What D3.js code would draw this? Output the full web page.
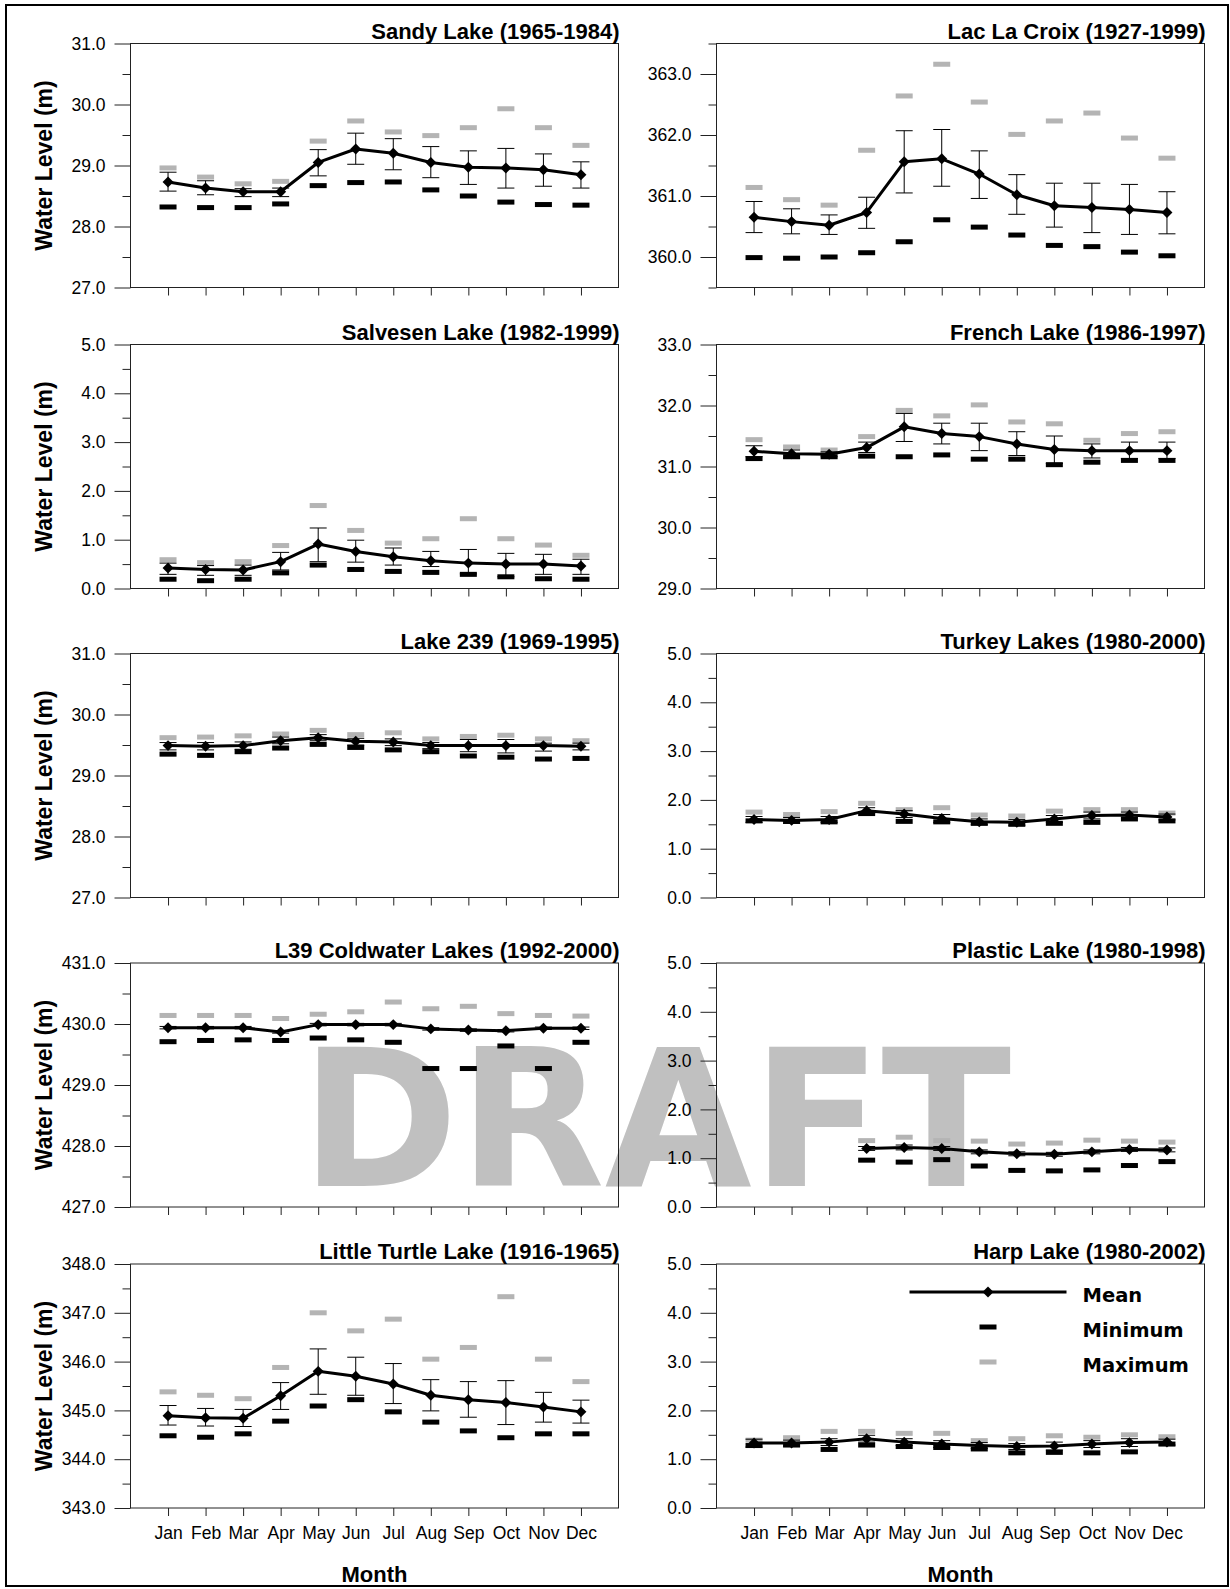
<!DOCTYPE html>
<html>
<head>
<meta charset="utf-8">
<script src="https://cdn.jsdelivr.net/npm/d3@7"></script>
<style>
  body { margin: 0; background: #fff; }
  svg text { font-family: 'Liberation Sans', Arial, sans-serif; }
</style>
</head>
<body>
<div id="chart"></div>
<script>
const months = ['Jan', 'Feb', 'Mar', 'Apr', 'May', 'Jun', 'Jul', 'Aug', 'Sep', 'Oct', 'Nov', 'Dec'];

// Sandy Lake (1965-1984)
const sandyMean = [28.73, 28.63, 28.57, 28.57, 29.05, 29.27, 29.20, 29.05, 28.97, 28.96, 28.93, 28.85];
const sandyUpper = [28.89, 28.75, 28.62, 28.63, 29.26, 29.53, 29.44, 29.31, 29.24, 29.28, 29.19, 29.06];
const sandyLower = [28.58, 28.52, 28.49, 28.49, 28.83, 29.02, 28.93, 28.80, 28.69, 28.63, 28.66, 28.63];
const sandyMax = [28.96, 28.81, 28.70, 28.74, 29.40, 29.73, 29.55, 29.49, 29.62, 29.93, 29.62, 29.33];
const sandyMin = [28.32, 28.31, 28.31, 28.37, 28.67, 28.72, 28.73, 28.60, 28.50, 28.40, 28.36, 28.35];

// Lac La Croix (1927-1999)
const croixMean = [360.65, 360.58, 360.52, 360.73, 361.56, 361.61, 361.36, 361.02, 360.84, 360.81, 360.78, 360.73];
const croixUpper = [360.91, 360.79, 360.69, 360.98, 362.07, 362.09, 361.74, 361.35, 361.21, 361.21, 361.19, 361.07];
const croixLower = [360.40, 360.38, 360.37, 360.47, 361.05, 361.16, 360.96, 360.70, 360.49, 360.40, 360.37, 360.38];
const croixMax = [361.14, 360.94, 360.85, 361.75, 362.64, 363.16, 362.54, 362.01, 362.23, 362.36, 361.95, 361.62];
const croixMin = [359.99, 359.98, 360.00, 360.07, 360.25, 360.61, 360.49, 360.36, 360.19, 360.17, 360.08, 360.02];

// Salvesen Lake (1982-1999)
const salvesenMean = [0.42, 0.39, 0.38, 0.55, 0.91, 0.76, 0.65, 0.57, 0.52, 0.50, 0.50, 0.46];
const salvesenUpper = [0.52, 0.47, 0.48, 0.74, 1.24, 0.99, 0.83, 0.76, 0.80, 0.72, 0.70, 0.60];
const salvesenLower = [0.29, 0.27, 0.27, 0.38, 0.55, 0.54, 0.48, 0.45, 0.30, 0.24, 0.29, 0.29];
const salvesenMax = [0.59, 0.53, 0.55, 0.88, 1.70, 1.19, 0.93, 1.02, 1.43, 1.02, 0.89, 0.68];
const salvesenMin = [0.19, 0.16, 0.19, 0.32, 0.48, 0.39, 0.35, 0.33, 0.29, 0.24, 0.20, 0.19];

// French Lake (1986-1997)
const frenchMean = [31.25, 31.21, 31.20, 31.31, 31.65, 31.54, 31.49, 31.37, 31.28, 31.26, 31.26, 31.26];
const frenchUpper = [31.34, 31.27, 31.24, 31.40, 31.87, 31.71, 31.71, 31.57, 31.50, 31.37, 31.40, 31.40];
const frenchLower = [31.16, 31.14, 31.16, 31.23, 31.41, 31.37, 31.26, 31.18, 31.05, 31.14, 31.13, 31.13];
const frenchMax = [31.44, 31.32, 31.27, 31.49, 31.92, 31.83, 32.01, 31.73, 31.70, 31.43, 31.54, 31.57];
const frenchMin = [31.13, 31.16, 31.16, 31.17, 31.16, 31.19, 31.12, 31.12, 31.03, 31.07, 31.10, 31.10];

// Lake 239 (1969-1995)
const l239Mean = [29.49, 29.48, 29.49, 29.57, 29.62, 29.56, 29.55, 29.49, 29.49, 29.49, 29.49, 29.48];
const l239Upper = [29.54, 29.54, 29.55, 29.63, 29.67, 29.61, 29.60, 29.54, 29.59, 29.59, 29.53, 29.53];
const l239Lower = [29.42, 29.42, 29.43, 29.52, 29.57, 29.50, 29.49, 29.44, 29.39, 29.37, 29.40, 29.42];
const l239Max = [29.62, 29.63, 29.65, 29.68, 29.74, 29.67, 29.70, 29.60, 29.64, 29.66, 29.60, 29.57];
const l239Min = [29.35, 29.33, 29.39, 29.45, 29.51, 29.46, 29.42, 29.39, 29.32, 29.30, 29.27, 29.28];

// Turkey Lakes (1980-2000)
const turkeyMean = [1.60, 1.58, 1.60, 1.78, 1.71, 1.62, 1.55, 1.54, 1.61, 1.68, 1.69, 1.65];
const turkeyUpper = [1.66, 1.64, 1.66, 1.84, 1.78, 1.70, 1.61, 1.60, 1.68, 1.75, 1.75, 1.71];
const turkeyLower = [1.54, 1.52, 1.54, 1.72, 1.64, 1.54, 1.49, 1.48, 1.54, 1.61, 1.63, 1.59];
const turkeyMax = [1.75, 1.70, 1.76, 1.93, 1.80, 1.84, 1.69, 1.67, 1.77, 1.80, 1.80, 1.73];
const turkeyMin = [1.57, 1.56, 1.55, 1.72, 1.56, 1.55, 1.52, 1.50, 1.52, 1.54, 1.61, 1.57];

// L39 Coldwater Lakes (1992-2000)
const l39Mean = [429.94, 429.94, 429.94, 429.87, 429.99, 429.99, 429.99, 429.92, 429.90, 429.89, 429.93, 429.93];
const l39Upper = [429.96, 429.96, 429.96, 429.89, 430.01, 430.01, 430.01, 429.94, 429.92, 429.91, 429.95, 429.95];
const l39Lower = [429.92, 429.92, 429.92, 429.85, 429.97, 429.97, 429.97, 429.90, 429.88, 429.87, 429.91, 429.91];
const l39Max = [430.14, 430.14, 430.14, 430.09, 430.16, 430.20, 430.36, 430.25, 430.29, 430.17, 430.14, 430.13];
const l39Min = [429.71, 429.73, 429.74, 429.73, 429.77, 429.74, 429.70, 429.27, 429.27, 429.64, 429.27, 429.70];

// Plastic Lake (1980-1998), no Jan-Mar
const plasticMean = [null, null, null, 1.20, 1.22, 1.20, 1.13, 1.09, 1.08, 1.13, 1.18, 1.17];
const plasticUpper = [null, null, null, 1.24, 1.27, 1.24, 1.17, 1.13, 1.12, 1.17, 1.22, 1.21];
const plasticLower = [null, null, null, 1.16, 1.17, 1.16, 1.09, 1.05, 1.04, 1.09, 1.14, 1.13];
const plasticMax = [null, null, null, 1.36, 1.43, 1.36, 1.35, 1.29, 1.31, 1.37, 1.35, 1.33];
const plasticMin = [null, null, null, 0.96, 0.92, 0.97, 0.84, 0.75, 0.74, 0.76, 0.85, 0.93];

// Little Turtle Lake (1916-1965)
const turtleMean = [344.89, 344.85, 344.84, 345.30, 345.80, 345.70, 345.54, 345.31, 345.22, 345.16, 345.07, 344.97];
const turtleUpper = [345.10, 345.04, 345.02, 345.57, 346.26, 346.09, 345.96, 345.63, 345.59, 345.61, 345.37, 345.21];
const turtleLower = [344.70, 344.68, 344.67, 345.02, 345.33, 345.31, 345.14, 344.99, 344.86, 344.71, 344.76, 344.74];
const turtleMax = [345.38, 345.31, 345.24, 345.88, 347.00, 346.63, 346.87, 346.05, 346.29, 347.33, 346.05, 345.59];
const turtleMin = [344.48, 344.45, 344.52, 344.78, 345.09, 345.22, 344.97, 344.76, 344.58, 344.44, 344.52, 344.52];

// Harp Lake (1980-2002)
const harpMean = [1.33, 1.33, 1.35, 1.42, 1.35, 1.31, 1.28, 1.26, 1.27, 1.31, 1.34, 1.35];
const harpUpper = [1.41, 1.39, 1.42, 1.49, 1.42, 1.38, 1.34, 1.32, 1.35, 1.38, 1.42, 1.41];
const harpLower = [1.25, 1.27, 1.28, 1.35, 1.28, 1.24, 1.22, 1.20, 1.19, 1.24, 1.26, 1.29];
const harpMax = [1.39, 1.44, 1.57, 1.57, 1.53, 1.53, 1.38, 1.42, 1.48, 1.45, 1.50, 1.46];
const harpMin = [1.28, 1.29, 1.20, 1.29, 1.26, 1.24, 1.21, 1.13, 1.14, 1.13, 1.15, 1.31];

const legendLabels = ['Mean', 'Minimum', 'Maximum'];

// panel table: [title, col, row, yDomain, mean, upper, lower, max, min]
const panels = [
  ['Sandy Lake (1965-1984)', 0, 0, [27, 31], sandyMean, sandyUpper, sandyLower, sandyMax, sandyMin],
  ['Lac La Croix (1927-1999)', 1, 0, [359.5, 363.5], croixMean, croixUpper, croixLower, croixMax, croixMin],
  ['Salvesen Lake (1982-1999)', 0, 1, [0, 5], salvesenMean, salvesenUpper, salvesenLower, salvesenMax, salvesenMin],
  ['French Lake (1986-1997)', 1, 1, [29, 33], frenchMean, frenchUpper, frenchLower, frenchMax, frenchMin],
  ['Lake 239 (1969-1995)', 0, 2, [27, 31], l239Mean, l239Upper, l239Lower, l239Max, l239Min],
  ['Turkey Lakes (1980-2000)', 1, 2, [0, 5], turkeyMean, turkeyUpper, turkeyLower, turkeyMax, turkeyMin],
  ['L39 Coldwater Lakes (1992-2000)', 0, 3, [427, 431], l39Mean, l39Upper, l39Lower, l39Max, l39Min],
  ['Plastic Lake (1980-1998)', 1, 3, [0, 5], plasticMean, plasticUpper, plasticLower, plasticMax, plasticMin],
  ['Little Turtle Lake (1916-1965)', 0, 4, [343, 348], turtleMean, turtleUpper, turtleLower, turtleMax, turtleMin],
  ['Harp Lake (1980-2002)', 1, 4, [0, 5], harpMean, harpUpper, harpLower, harpMax, harpMin]
];

const width = 1230;
const height = 1589;
const colX = [130.5, 716.5];
const plotW = 488;
const rowY = [43.5, 344.5, 653.5, 963, 1264];
const plotH = 244;
const barW = 17;
const barH = 5;
const grey = '#b4b4b4';
const axisColor = '#222';

const svg = d3.select('#chart').append('svg')
  .attr('width', width)
  .attr('height', height);

svg.append('rect')
  .attr('width', width).attr('height', height)
  .attr('fill', '#fff');

// watermark sits behind everything
svg.append('text')
  .attr('x', 656)
  .attr('y', 1186)
  .attr('text-anchor', 'middle')
  .style('font-family', "'DejaVu Sans', Verdana, sans-serif")
  .style('font-weight', 'bold')
  .style('font-size', '190px')
  .attr('fill', '#c0c0c0')
  .text('DRAFT');

// outer frame
svg.append('rect')
  .attr('x', 6).attr('y', 5)
  .attr('width', 1222).attr('height', 1581)
  .attr('fill', 'none')
  .attr('stroke', '#000')
  .attr('stroke-width', 2);

const diamond = d3.symbol().type(d3.symbolSquare).size(60);

function drawPanel(p) {
  const [title, col, row, domain, mean, upper, lower, maxV, minV] = p;
  const x0 = colX[col];
  const y0 = rowY[row];
  const g = svg.append('g').attr('transform', `translate(${x0},${y0})`);

  const x = d3.scalePoint().domain(months).range([0, plotW]).padding(1);
  const y = d3.scaleLinear().domain(domain).range([plotH, 0]);

  const majors = d3.range(Math.ceil(domain[0]), Math.floor(domain[1]) + 0.001, 1);
  const minors = d3.range(domain[0], domain[1] + 0.001, 0.5).filter(v => !majors.includes(v));

  // y axis: major ticks with labels
  const yAxis = d3.axisLeft(y).tickValues(majors).tickFormat(d3.format('.1f'))
    .tickSize(16).tickPadding(9);
  const ya = g.append('g').call(yAxis);
  ya.select('.domain').remove();
  ya.selectAll('line').attr('stroke', axisColor);
  ya.selectAll('text').style('font-size', '17.5px').attr('fill', '#000');

  const yMinor = d3.axisLeft(y).tickValues(minors).tickSize(8).tickFormat('');
  const ym = g.append('g').call(yMinor);
  ym.select('.domain').remove();
  ym.selectAll('line').attr('stroke', axisColor);

  // x axis ticks
  const xAxis = d3.axisBottom(x).tickSize(8).tickPadding(11);
  const xa = g.append('g').attr('transform', `translate(0,${plotH})`).call(xAxis);
  xa.select('.domain').remove();
  xa.selectAll('line').attr('stroke', axisColor);
  if (row === 4) {
    xa.selectAll('text').style('font-size', '17.5px').attr('fill', '#000');
  } else {
    xa.selectAll('text').remove();
  }

  // frame
  g.append('rect')
    .attr('width', plotW).attr('height', plotH)
    .attr('fill', 'none')
    .attr('stroke', axisColor)
    .attr('stroke-width', 1);

  g.append('text')
    .attr('x', plotW + 1)
    .attr('y', -5)
    .attr('text-anchor', 'end')
    .style('font-size', '22px')
    .style('font-weight', 'bold')
    .text(title);

  const pts = months.map((m, i) => ({
    m, mean: mean[i], hi: upper[i], lo: lower[i], max: maxV[i], min: minV[i]
  })).filter(d => d.mean != null);

  // maximum
  g.selectAll('.maxbar').data(pts).enter().append('rect')
    .attr('class', 'maxbar')
    .attr('x', d => x(d.m) - barW / 2)
    .attr('y', d => y(d.max) - barH / 2)
    .attr('width', barW).attr('height', barH)
    .attr('fill', grey);

  // minimum
  g.selectAll('.minbar').data(pts).enter().append('rect')
    .attr('class', 'minbar')
    .attr('x', d => x(d.m) - barW / 2)
    .attr('y', d => y(d.min) - barH / 2)
    .attr('width', barW).attr('height', barH)
    .attr('fill', '#000');

  // error bars
  const eb = g.selectAll('.err').data(pts).enter().append('g').attr('class', 'err')
    .attr('stroke', '#000').attr('stroke-width', 1);
  eb.append('line')
    .attr('x1', d => x(d.m)).attr('x2', d => x(d.m))
    .attr('y1', d => y(d.hi)).attr('y2', d => y(d.lo));
  eb.append('line')
    .attr('x1', d => x(d.m) - barW / 2).attr('x2', d => x(d.m) + barW / 2)
    .attr('y1', d => y(d.hi)).attr('y2', d => y(d.hi));
  eb.append('line')
    .attr('x1', d => x(d.m) - barW / 2).attr('x2', d => x(d.m) + barW / 2)
    .attr('y1', d => y(d.lo)).attr('y2', d => y(d.lo));

  // mean line + diamonds
  const line = d3.line().x(d => x(d.m)).y(d => y(d.mean));
  g.append('path').datum(pts)
    .attr('d', line)
    .attr('fill', 'none')
    .attr('stroke', '#000')
    .attr('stroke-width', 3)
    .attr('stroke-linejoin', 'round');

  g.selectAll('.dia').data(pts).enter().append('path')
    .attr('class', 'dia')
    .attr('d', diamond)
    .attr('transform', d => `translate(${x(d.m)},${y(d.mean)}) rotate(45)`)
    .attr('fill', '#000');

  if (col === 0) {
    g.append('text')
      .attr('transform', `translate(${52 - x0},${plotH / 2}) rotate(-90)`)
      .attr('text-anchor', 'middle')
      .style('font-size', '23px')
      .style('font-weight', 'bold')
      .text('Water Level (m)');
  }
  if (row === 4) {
    g.append('text')
      .attr('x', plotW / 2)
      .attr('y', plotH + 74)
      .attr('text-anchor', 'middle')
      .style('font-size', '22px')
      .style('font-weight', 'bold')
      .text('Month');
  }
  return g;
}

const groups = panels.map(drawPanel);

// legend inside Harp Lake panel
const lg = groups[9].append('g').attr('transform', 'translate(193,28)');
lg.append('line')
  .attr('x1', 0).attr('x2', 157)
  .attr('stroke', '#000').attr('stroke-width', 3);
lg.append('path')
  .attr('d', diamond)
  .attr('transform', 'translate(78.5,0) rotate(45)');
lg.append('rect')
  .attr('x', 78.5 - barW / 2).attr('y', 35 - barH / 2)
  .attr('width', barW).attr('height', barH).attr('fill', '#000');
lg.append('rect')
  .attr('x', 78.5 - barW / 2).attr('y', 70 - barH / 2)
  .attr('width', barW).attr('height', barH).attr('fill', grey);
lg.selectAll('.ltxt').data(legendLabels).enter().append('text')
  .attr('class', 'ltxt')
  .attr('x', 173)
  .attr('y', (d, i) => i * 35 + 9.5)
  .style('font-family', "'DejaVu Sans', Verdana, sans-serif")
  .style('font-weight', 'bold')
  .style('font-size', '19.5px')
  .text(d => d);
</script>
</body>
</html>
